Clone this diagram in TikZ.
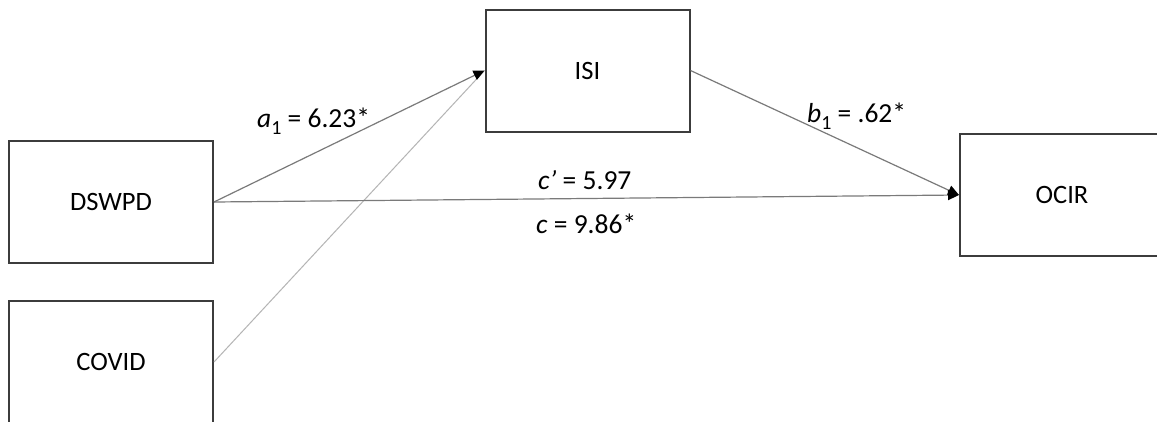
\documentclass[tikz,border=0pt]{standalone}
\usepackage{fontspec}
\setmainfont{Carlito}
\usetikzlibrary{arrows.meta}

\tikzset{
  varbox/.style={draw=boxgray, line width=2pt, fill=white,
    minimum width=204pt, minimum height=122pt, inner sep=0pt,
    font=\fontsize{26.5}{30}\selectfont},
  pathlbl/.style={anchor=base west, inner sep=0pt,
    font=\fontsize{27.5}{30}\selectfont},
  effect/.style={draw=linegray, line width=1.2pt,
    -{Triangle[length=11pt,width=10pt,color=black]}},
  covar/.style={draw=lightgray, line width=1pt},
}
\definecolor{boxgray}{HTML}{3C3C3C}
\definecolor{linegray}{HTML}{7A7A7A}
\definecolor{lightgray}{HTML}{B4B4B4}
\newcommand{\subone}{\raisebox{-0.28em}{\fontsize{20}{22}\selectfont 1}}

\begin{document}
\begin{tikzpicture}[x=1pt, y=-1pt]
  \clip (0,0) rectangle (1157,421);
  \fill[white] (0,0) rectangle (1157,421);

  % variables
  \node[varbox] (isi)   at (587.5, 70.5) {ISI};
  \node[varbox] (dswpd) at (111, 202)    {DSWPD};
  \node[varbox] (covid) at (111, 362)    {COVID};
  \node[varbox] (ocir)  at (1062, 195)   {OCIR};

  % paths
  \draw[covar]  (covid.east) -- (isi.west);
  \draw[effect] (dswpd.east) -- (isi.west);
  \draw[effect] (isi.east) -- (ocir.west);
  \draw[effect] (dswpd.east) -- (ocir.west);

  % coefficients
  \node[pathlbl] (la) at (257, 127) {\textit{a}\subone{} = 6.23*};
  \node[pathlbl] (lb) at (807, 122) {\textit{b}\subone{} = .62*};
  \node[pathlbl] (lcp) at (538, 189) {\textit{c’} = 5.97};
  \node[pathlbl] (lc) at (536, 233) {\textit{c} = 9.86*};
\end{tikzpicture}
\end{document}
